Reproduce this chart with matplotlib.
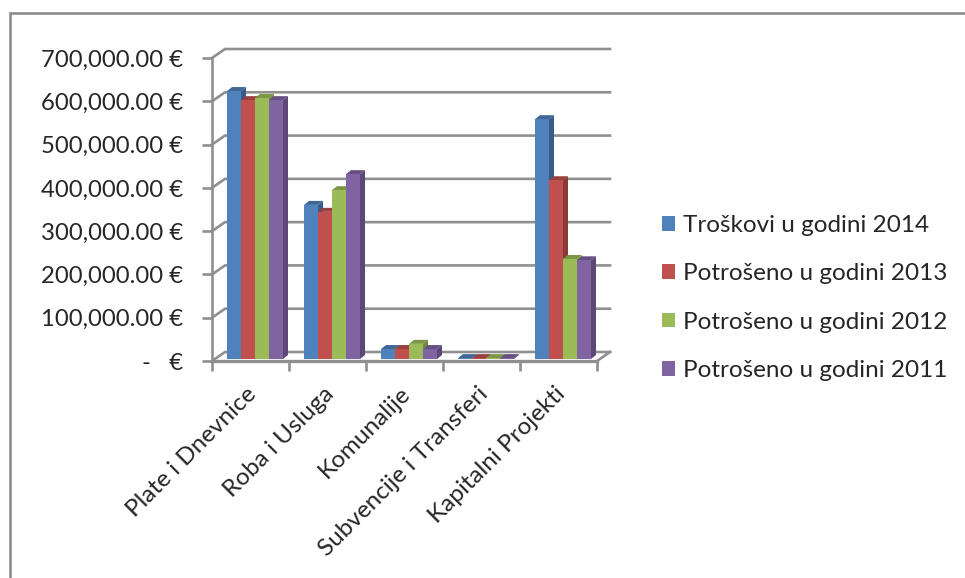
import matplotlib
matplotlib.use("Agg")
import matplotlib.pyplot as plt
from matplotlib.lines import Line2D
from matplotlib.patches import Polygon, Rectangle
from matplotlib.ticker import FuncFormatter

categories = ["Plate i Dnevnice", "Roba i Usluga", "Komunalije", "Subvencije i Transferi", "Kapitalni Projekti"]
series_names = ["Troškovi u godini 2014", "Potrošeno u godini 2013", "Potrošeno u godini 2012", "Potrošeno u godini 2011"]
v2014 = [619000, 356000, 23000, 2000, 554000]
v2013 = [598000, 340000, 23000, 2000, 413000]
v2012 = [603000, 390000, 35000, 2000, 231000]
v2011 = [598000, 427000, 23000, 2000, 228000]
series = [v2014, v2013, v2012, v2011]
front = ["#4F81BD", "#C0504D", "#9BBB59", "#8064A2"]
side = ["#385D8A", "#8C3A38", "#71893F", "#5C4776"]
top = ["#3F6797", "#9A403E", "#7C9647", "#664F82"]
yticks = list(range(0, 700001, 100000))
text_color = "#262626"

plt.rcParams["font.family"] = ["Lato", "DejaVu Sans"]
W, H = 965, 578
fig = plt.figure(figsize=(W/100, H/100), dpi=100, facecolor="white")
fig.add_artist(Line2D([10/W, 10/W, 1], [0, 1-12.5/H, 1-12.5/H], transform=fig.transFigure,
                      color="#8c8c8c", lw=1.9, solid_joinstyle="miter"))
L, R, T, B = 212, 597, 58, 361
ax = fig.add_axes([L/W, 1-B/H, (R-L)/W, (B-T)/H])
ax.set_xlim(0, 5)
ax.set_ylim(0, 700000)
ax.patch.set_alpha(0)
px = 5/(R-L)
py = 700000/(B-T)
wx, wy = 13*px, 9*py
grid = "#8f8f8f"
for y in yticks:
    ax.plot([0, wx, 5+wx], [y, y+wy, y+wy], color=grid, lw=1.9, clip_on=False, zorder=1, solid_joinstyle="miter")
ax.plot([5, 5+wx], [0, wy], color=grid, lw=1.9, clip_on=False, zorder=1)
ax.plot([0, 5], [0, 0], color=grid, lw=2.4, clip_on=False, zorder=2)

bw = 14*px
dx, dy = 5*px, 4*py
base = 2*py
for s, vals in enumerate(series):
    for i, v in enumerate(vals):
        x0 = i + (15 + s*14)*px
        yb, yt = base, base + v
        ax.bar(x0, v, bw, bottom=base, align="edge", color=front[s], zorder=4+s*0.01, clip_on=False)
        ax.add_patch(Polygon([(x0+bw, yb), (x0+bw+dx, yb+dy), (x0+bw+dx, yt+dy), (x0+bw, yt)],
                             fc=side[s], ec="none", zorder=3.9+s*0.01, clip_on=False))
        ax.add_patch(Polygon([(x0, yt), (x0+dx, yt+dy), (x0+bw+dx, yt+dy), (x0+bw, yt)],
                             fc=top[s], ec="none", zorder=3.9+s*0.01, clip_on=False))

for sp in ["top", "right"]:
    ax.spines[sp].set_visible(False)
for sp in ["left", "bottom"]:
    ax.spines[sp].set_color(grid)
    ax.spines[sp].set_linewidth(1.9)
ax.set_yticks(yticks)
ax.yaxis.set_major_formatter(FuncFormatter(lambda v, p: f"{v:,.2f} €" if v else "-   €"))
ax.set_xticks(range(6))
ax.set_xticklabels([""]*6)
ax.tick_params(axis="both", color=grid, width=1.9, length=7, labelcolor=text_color)
ax.tick_params(axis="y", labelsize=17.2, pad=14)
for i, c in enumerate(categories):
    ax.annotate(c, xy=(i+0.44, 0), xycoords=("data", "axes fraction"), xytext=(0, -22), textcoords="offset pixels",
                rotation=45, ha="right", va="top", rotation_mode="anchor", fontsize=17.5, color=text_color)

handles = [Rectangle((0, 0), 1, 1, fc=c) for c in front]
fig.legend(handles, series_names, loc="center left", bbox_to_anchor=(662/W, 1-298/H), frameon=False,
           fontsize=17.5, handlelength=0.55, handleheight=0.55, handletextpad=0.33, labelspacing=1.12,
           borderpad=0, borderaxespad=0, labelcolor=text_color)
fig.savefig("out.png", dpi=100)
